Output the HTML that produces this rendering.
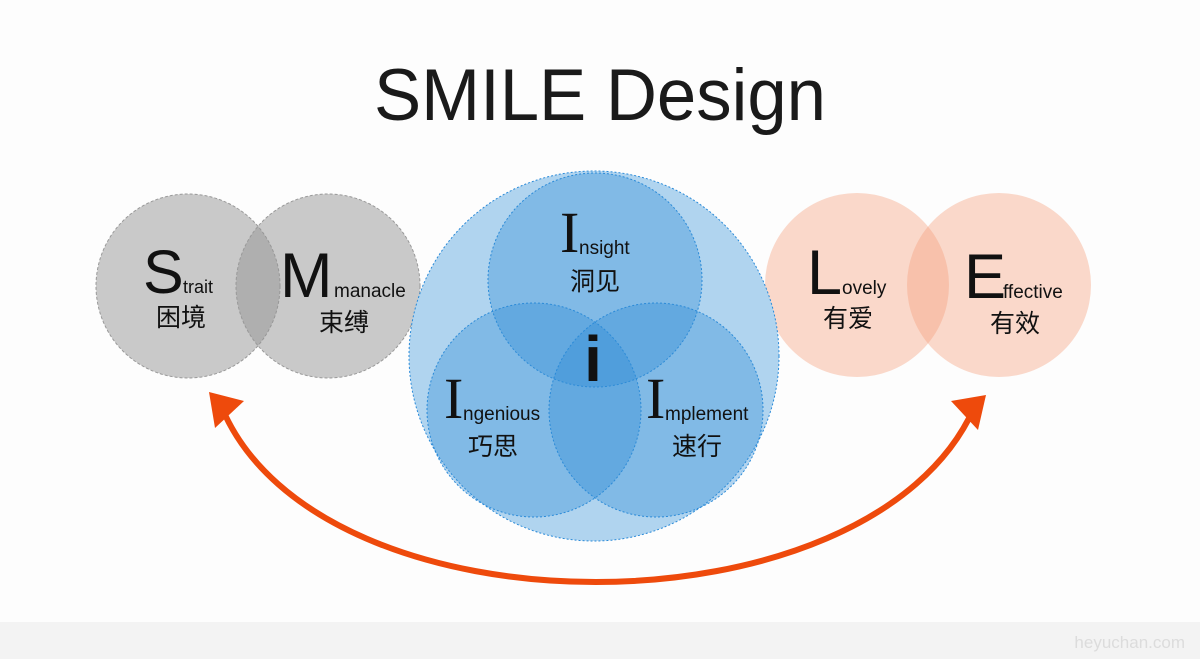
<!DOCTYPE html>
<html><head><meta charset="utf-8"><style>
html,body{margin:0;padding:0;background:#fdfdfd;}
svg{display:block}
</style></head><body>
<svg width="1200" height="659" viewBox="0 0 1200 659" xmlns="http://www.w3.org/2000/svg">
<rect width="1200" height="659" fill="#fdfdfd"/>
<rect x="0" y="622" width="1200" height="37" fill="#f3f3f3"/>
<text x="1185" y="648" text-anchor="end" font-family="Liberation Sans, sans-serif" font-size="17" fill="#dcdcdc">heyuchan.com</text>
<text x="600" y="120" text-anchor="middle" font-family="Liberation Sans, sans-serif" font-size="73" fill="#1a1a1a" textLength="452" lengthAdjust="spacingAndGlyphs">SMILE Design</text>

<g stroke="#999" stroke-width="1" stroke-dasharray="3,2">
<circle cx="188" cy="286" r="92" fill="rgba(150,150,150,0.5)"/>
<circle cx="328" cy="286" r="92" fill="rgba(150,150,150,0.5)"/>
</g>
<circle cx="857" cy="285" r="92" fill="rgba(244,160,125,0.4)"/>
<circle cx="999" cy="285" r="92" fill="rgba(244,160,125,0.4)"/>

<g stroke="#2a8ad8" stroke-width="1" stroke-dasharray="2,2">
<circle cx="594" cy="356" r="185" fill="#b0d4ef"/>
<circle cx="595" cy="280" r="107" fill="rgba(50,140,215,0.37)"/>
<circle cx="534" cy="410" r="107" fill="rgba(50,140,215,0.37)"/>
<circle cx="656" cy="410" r="107" fill="rgba(50,140,215,0.37)"/>
</g>

<g font-family="Liberation Sans, 'Noto Sans CJK SC', sans-serif" fill="#111">
<text x="143" y="293" font-size="61">S</text>
<text x="183" y="293" font-size="18">trait</text>
<text x="181" y="326" font-size="25" text-anchor="middle">困境</text>
<text x="280" y="297" font-size="63">M</text>
<text x="334" y="297" font-size="19">manacle</text>
<text x="344" y="331" font-size="25" text-anchor="middle">束缚</text>
<text x="807" y="294" font-size="63">L</text>
<text x="842" y="294" font-size="19">ovely</text>
<text x="848" y="327" font-size="25" text-anchor="middle">有爱</text>
<text x="964" y="298" font-size="63">E</text>
<text x="1003" y="298" font-size="19">ffective</text>
<text x="1015" y="332" font-size="25" text-anchor="middle">有效</text>
<text x="595" y="290" font-size="25" text-anchor="middle">洞见</text>
<text x="493" y="455" font-size="25" text-anchor="middle">巧思</text>
<text x="697" y="455" font-size="25" text-anchor="middle">速行</text>
<text x="579" y="254" font-size="19">nsight</text>
<text x="463" y="420" font-size="19">ngenious</text>
<text x="665" y="420" font-size="19">mplement</text>
<text x="593" y="381" font-size="64" font-weight="bold" text-anchor="middle">i</text>
</g>
<g font-family="Liberation Serif, serif" fill="#111" font-size="58">
<text x="560" y="252">I</text>
<text x="444" y="418">I</text>
<text x="646" y="418">I</text>
</g>

<path d="M222,408 C320,640 870,640 974,408" fill="none" stroke="#ee4a0c" stroke-width="6" stroke-linecap="round"/>
<polygon points="986,395 951,401 978,430" fill="#ee4a0c"/>
<polygon points="209,392 244,401 215,428" fill="#ee4a0c"/>
</svg>
</body></html>
